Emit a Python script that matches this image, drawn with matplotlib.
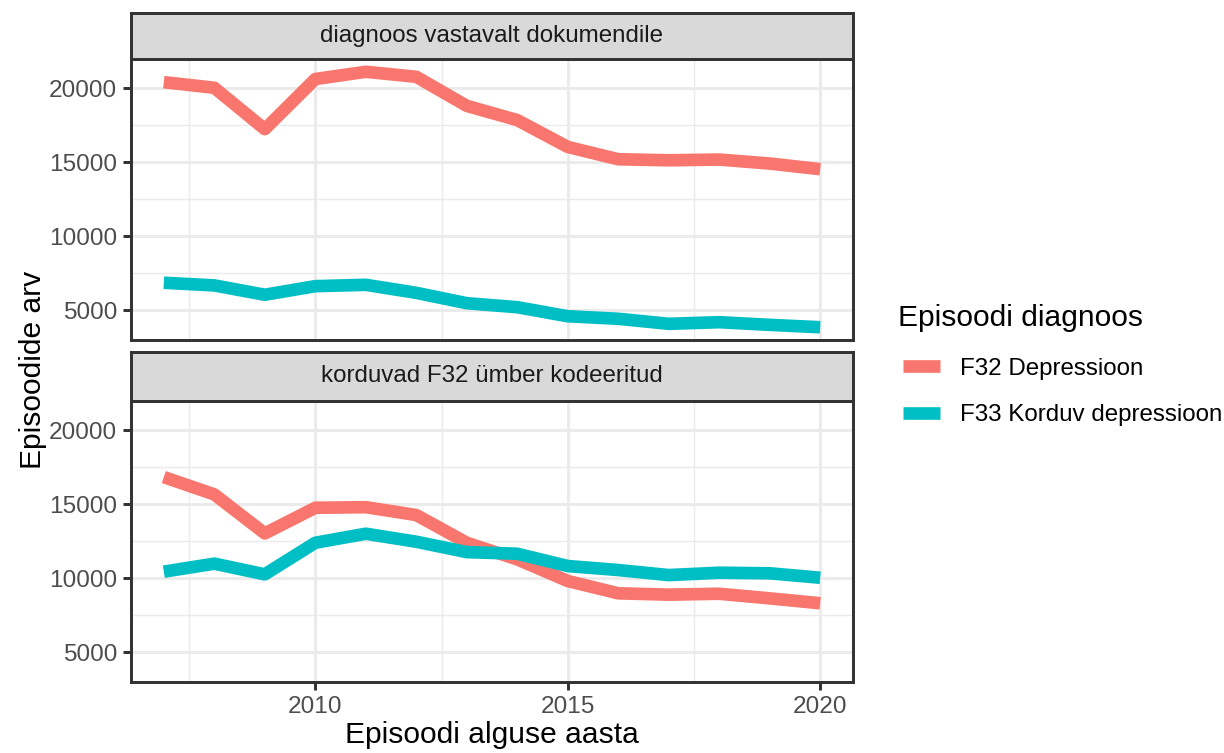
import numpy as np
import matplotlib
matplotlib.use("Agg")
import matplotlib.pyplot as plt
from matplotlib.lines import Line2D
from matplotlib.ticker import MultipleLocator

plt.rcParams['font.family'] = ['Liberation Sans', 'DejaVu Sans']

# episode counts per start year
years = [2007, 2008, 2009, 2010, 2011, 2012, 2013, 2014, 2015, 2016, 2017, 2018, 2019, 2020]
doc_f32 = [20400, 20020, 17230, 20610, 21100, 20760, 18800, 17840, 16030, 15200, 15130, 15180, 14910, 14530]
doc_f33 = [6870, 6690, 6060, 6640, 6730, 6190, 5490, 5220, 4610, 4440, 4100, 4210, 4030, 3870]
rec_f32 = [16830, 15660, 13030, 14760, 14800, 14270, 12400, 11280, 9820, 8990, 8900, 8960, 8650, 8320]
rec_f33 = [10450, 10990, 10270, 12400, 13010, 12470, 11770, 11660, 10830, 10560, 10220, 10380, 10340, 10040]

facet_titles = ["diagnoos vastavalt dokumendile", "korduvad F32 ümber kodeeritud"]
series_names = ["F32 Depressioon", "F33 Korduv depressioon"]
colors = ["#F8766D", "#00BFC4"]

panels = [(doc_f32, doc_f33), (rec_f32, rec_f33)]

W, H = 1224, 753
fig = plt.figure(figsize=(W / 200, H / 200), dpi=200)

def frac(x0, y0, x1, y1):
    # pixel box (top-left origin) -> figure fraction rect
    return [x0 / W, 1 - y1 / H, (x1 - x0) / W, (y1 - y0) / H]

panel_px = [(131, 59, 853, 340), (131, 401, 853, 682)]
strip_px = [(131, 13, 853, 59), (131, 352, 853, 401)]

allv = np.concatenate([np.array(s) for p in panels for s in p])
ypad = 0.05 * (allv.max() - allv.min())
ylim = (allv.min() - ypad, allv.max() + ypad)
xpad = 0.05 * (years[-1] - years[0])
xlim = (years[0] - xpad, years[-1] + xpad)

line_w = 4.55
grid_c = "#EBEBEB"
edge_c = "#333333"

for i, (series, title) in enumerate(zip(panels, facet_titles)):
    ax = fig.add_axes(frac(*panel_px[i]))
    for vals, c, name in zip(series, colors, series_names):
        ax.plot(years, vals, color=c, lw=line_w, solid_joinstyle='round',
                solid_capstyle='butt', label=name, zorder=3)
    ax.set_xlim(*xlim)
    ax.set_ylim(*ylim)
    ax.xaxis.set_major_locator(MultipleLocator(5))
    ax.xaxis.set_minor_locator(MultipleLocator(2.5))
    ax.yaxis.set_major_locator(MultipleLocator(5000))
    ax.yaxis.set_minor_locator(MultipleLocator(2500))
    ax.grid(which='major', color=grid_c, lw=1.07, zorder=0)
    ax.grid(which='minor', color=grid_c, lw=0.53, zorder=0)
    ax.set_axisbelow(True)
    for sp in ax.spines.values():
        sp.set_color(edge_c)
        sp.set_linewidth(1.07)
    ax.tick_params(which='minor', length=0)
    ax.tick_params(which='major', length=2.75, width=1.07, color=edge_c,
                   labelsize=8.8, labelcolor="#4D4D4D", pad=2.2)
    if i == 0:
        ax.tick_params(axis='x', which='major', length=0, labelbottom=False)

    sax = fig.add_axes(frac(*strip_px[i]))
    sax.set_facecolor("#D9D9D9")
    sax.set_xticks([])
    sax.set_yticks([])
    for sp in sax.spines.values():
        sp.set_color(edge_c)
        sp.set_linewidth(1.07)
    sax.text(0.5, 0.5, title, ha='center', va='center', fontsize=8.7,
             color="#1A1A1A", transform=sax.transAxes)

fig.text(33 / W, 1 - 370 / H, "Episoodide arv", rotation=90, ha='center',
         va='center', fontsize=10.8)
fig.text(492 / W, 1 - 735 / H, "Episoodi alguse aasta", ha='center',
         va='center', fontsize=10.8)

# legend: title as its own text, keys below it
fig.text(898 / W, 1 - 318 / H, "Episoodi diagnoos", ha='left', va='center',
         fontsize=10.8)
handles = [Line2D([0], [0], color=c, lw=line_w, solid_capstyle='butt')
           for c in colors]
fig.legend(handles, series_names, loc='center left',
           bbox_to_anchor=(903 / W, 1 - 392 / H), frameon=False,
           fontsize=8.7, handlelength=1.52, handletextpad=0.82,
           labelspacing=1.0, borderpad=0, borderaxespad=0)

fig.savefig("out.png", dpi=200)
